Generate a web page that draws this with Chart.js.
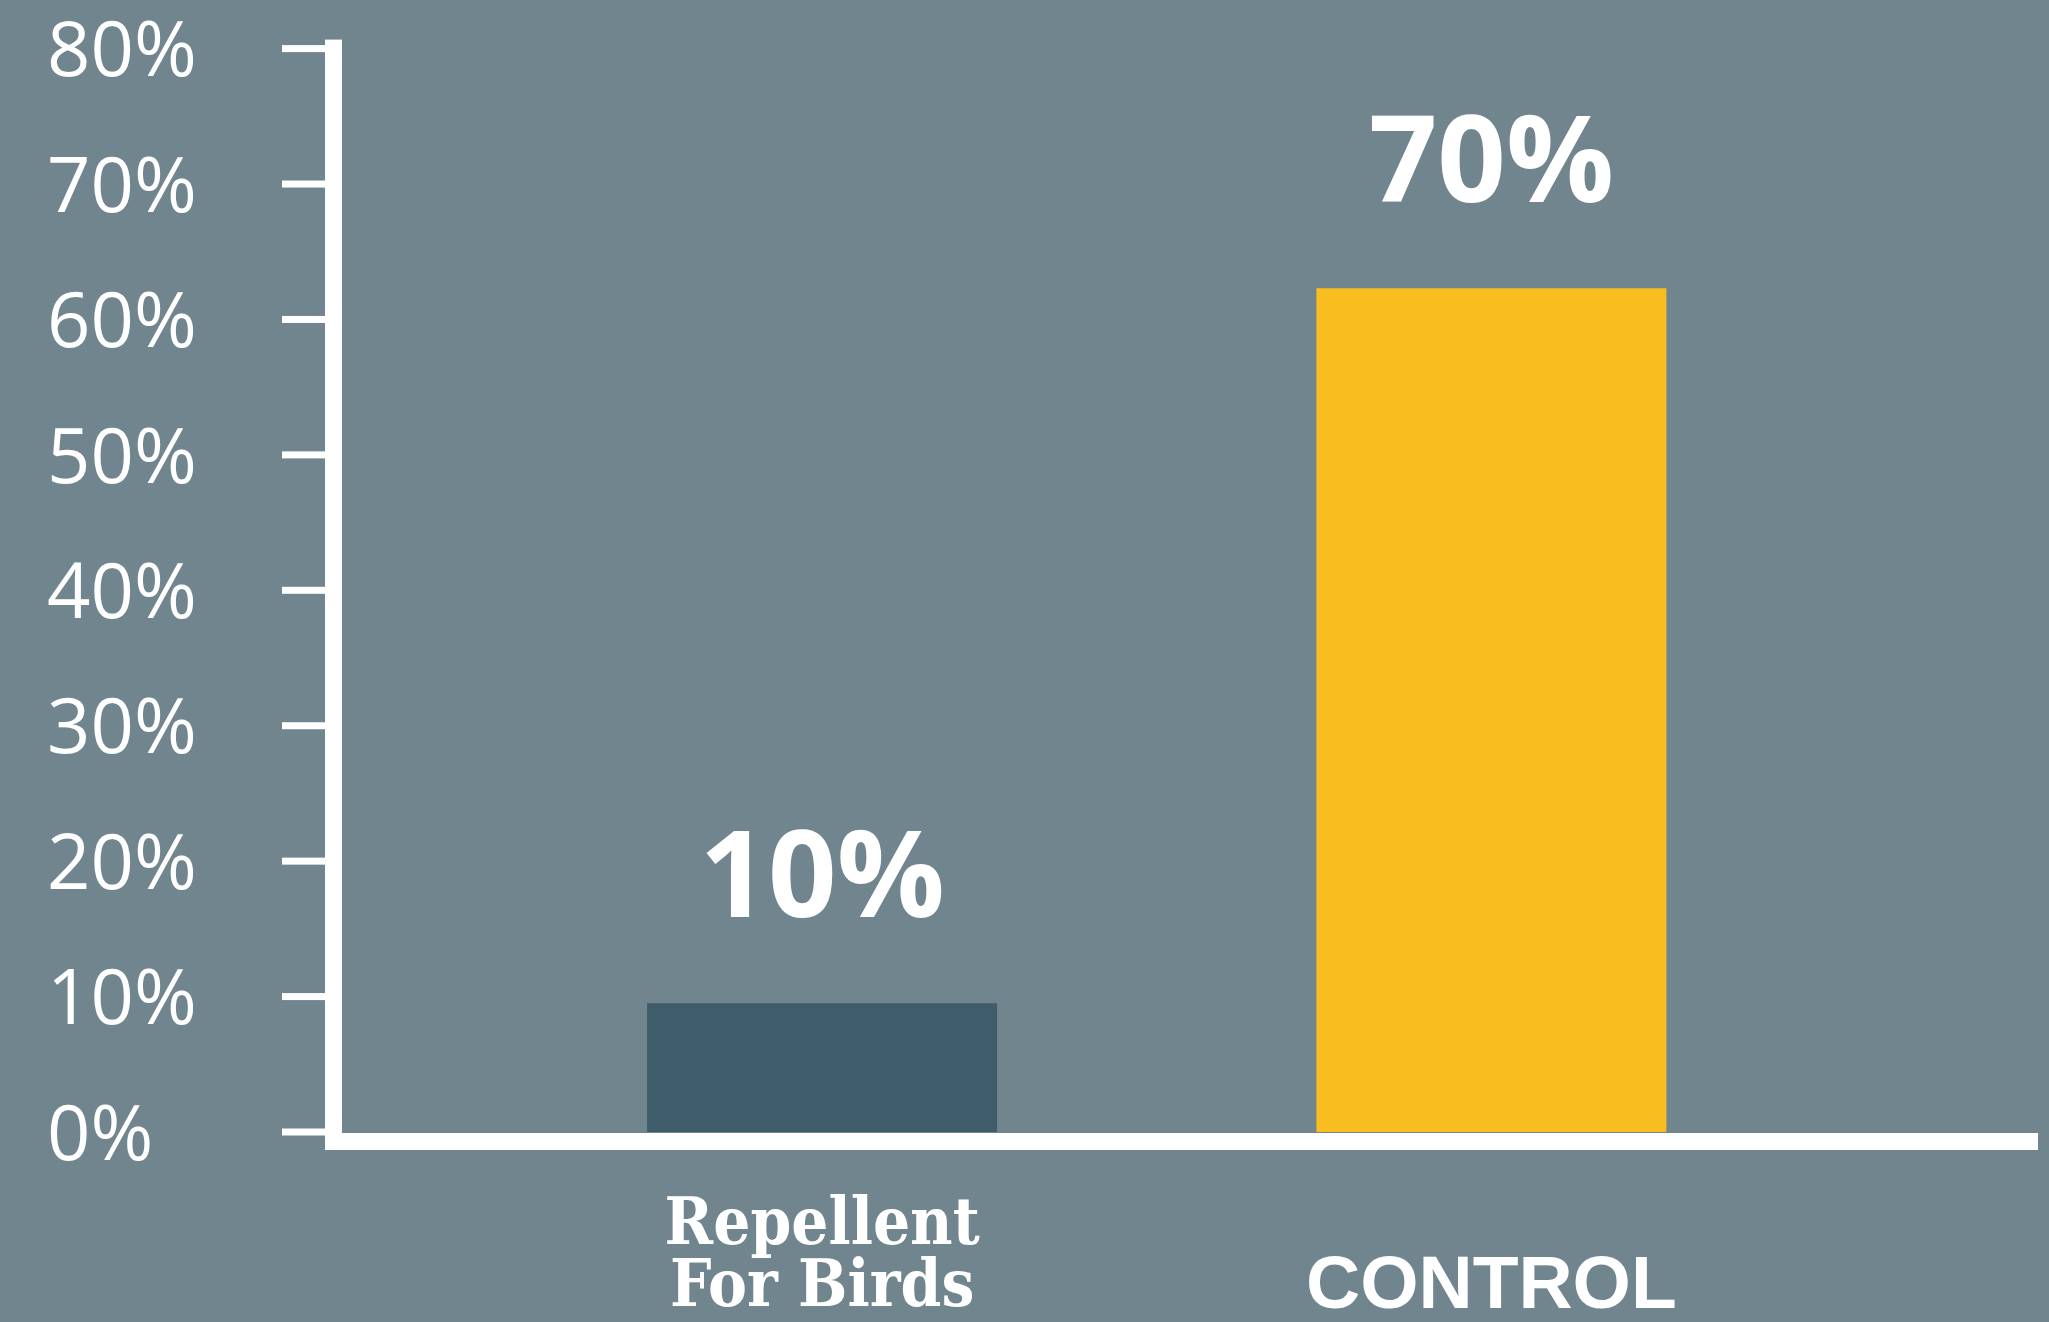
<!DOCTYPE html>
<html>
<head>
<meta charset="utf-8">
<title>Repellent For Birds vs Control</title>
<script src="https://cdn.jsdelivr.net/npm/chart.js@4.4.1/dist/chart.umd.min.js"></script>
<style>
  html, body { margin: 0; padding: 0; background: #71858f; }
  #wrap { width: 2049px; height: 1322px; }
</style>
</head>
<body>
<div id="wrap"><canvas id="myChart"></canvas></div>
<script>
const categories = [['Repellent', 'For Birds'], 'CONTROL'];
const barValues = [9.5, 62.3];
const barLabels = ['10%', '70%'];
const barColors = ['#3e5c69', '#f8bd1f'];
const tickValues = [0, 10, 20, 30, 40, 50, 60, 70, 80];

const WHITE = '#ffffff';

// the axis lines and tick marks are drawn here, chart.js' own ones are hidden
const axesPlugin = {
  id: 'axesLines',
  afterDraw(chart) {
    const { ctx, chartArea, scales } = chart;
    const y = scales.y;
    const lineW = 17;
    const lineX = chartArea.left - 162.5;
    const base = y.getPixelForValue(0);
    const top = y.getPixelForValue(tickValues[tickValues.length - 1]) - 9;
    ctx.save();
    ctx.fillStyle = WHITE;
    ctx.fillRect(lineX, top, lineW, base + 18 - top);
    ctx.fillRect(lineX, base + 1, chartArea.right + 212 - lineX, lineW);
    tickValues.forEach((v) => {
      const py = y.getPixelForValue(v);
      ctx.fillRect(lineX - 43, py - 3.5, 43, 7);
    });
    ctx.restore();
  }
};

const valueLabelPlugin = {
  id: 'valueLabels',
  afterDatasetsDraw(chart) {
    const { ctx } = chart;
    const meta = chart.getDatasetMeta(0);
    ctx.save();
    ctx.fillStyle = WHITE;
    ctx.font = '700 120px "Open Sans", sans-serif';
    ctx.textAlign = 'center';
    ctx.textBaseline = 'alphabetic';
    meta.data.forEach((bar, i) => {
      ctx.fillText(barLabels[i], bar.x, bar.y - 86);
    });
    ctx.restore();
  }
};

const configureChart = () => {
  return {
    type: 'bar',
    data: {
      labels: categories,
      datasets: [{
        data: barValues,
        backgroundColor: barColors,
        borderWidth: 0,
        categoryPercentage: 0.523,
        barPercentage: 1.0
      }]
    },
    options: {
      responsive: true,
      maintainAspectRatio: false,
      animation: false,
      layout: {
        padding: { top: 47, left: 47, right: 223, bottom: 0 }
      },
      plugins: {
        legend: { display: false },
        tooltip: { enabled: false }
      },
      scales: {
        x: {
          grid: { display: false, drawTicks: false },
          border: { display: false },
          ticks: {
            color: WHITE,
            padding: 64,
            maxRotation: 0,
            autoSkip: false,
            font: (c) => c.index === 0
              ? { family: '"DejaVu Serif Condensed", "DejaVu Serif", serif', weight: 'bold', size: 65, lineHeight: 0.95 }
              : { family: '"Liberation Sans", Arial, sans-serif', weight: 'bold', size: 75, lineHeight: 2.44 }
          },
          afterFit: (scale) => { scale.height = 190; }
        },
        y: {
          min: 0,
          max: 80,
          grid: { display: false, drawTicks: false },
          border: { display: false },
          afterBuildTicks: (scale) => { scale.ticks = tickValues.map((v) => ({ value: v })); },
          afterFit: (scale) => { scale.width = 440.5; },
          ticks: {
            color: WHITE,
            crossAlign: 'far',
            labelOffset: 6,
            font: { family: '"Open Sans", sans-serif', size: 76, weight: 400 },
            callback: (v) => v + '%'
          }
        }
      }
    },
    plugins: [axesPlugin, valueLabelPlugin]
  };
};

const renderChart = () => {
  const ctx = document.getElementById('myChart');
  new Chart(ctx, configureChart());
};

window.onload = () => {
  renderChart();
};
</script>
</body>
</html>
